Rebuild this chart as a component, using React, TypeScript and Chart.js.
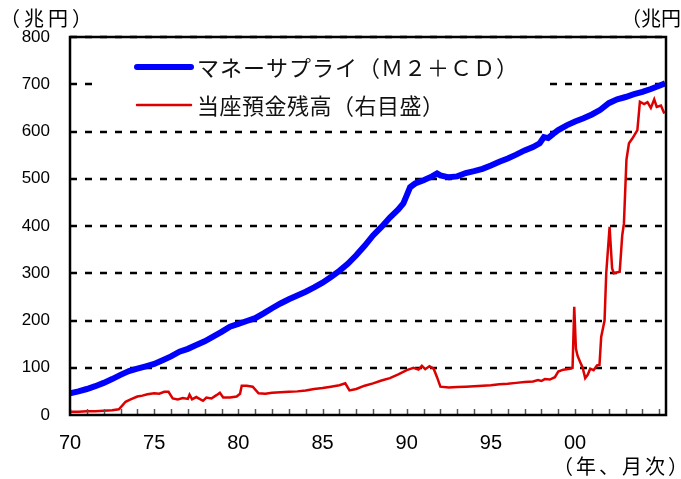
import React, { useEffect, useRef } from "react";
import { Chart, registerables } from "chart.js";

Chart.register(...registerables);

// マネーサプライ（M2+CD）, 兆円 (left scale)
const m2Years = [
  1970.0, 1970.5, 1971.0, 1971.5, 1972.0, 1972.5, 1973.0, 1973.5, 1974.0, 1974.5,
  1975.0, 1975.5, 1976.0, 1976.5, 1977.0, 1977.5, 1978.0, 1978.5, 1979.0, 1979.5,
  1980.0, 1980.5, 1981.0, 1981.5, 1982.0, 1982.5, 1983.0, 1983.5, 1984.0, 1984.5,
  1985.0, 1985.5, 1986.0, 1986.5, 1987.0, 1987.5, 1988.0, 1988.5, 1989.0, 1989.5,
  1989.8, 1990.0, 1990.2, 1990.5, 1991.0, 1991.5, 1991.8, 1992.0, 1992.5, 1993.0,
  1993.5, 1994.0, 1994.5, 1995.0, 1995.5, 1996.0, 1996.5, 1997.0, 1997.5, 1997.9,
  1998.15, 1998.4, 1998.7, 1999.0, 1999.5, 2000.0, 2000.5, 2001.0, 2001.5, 2002.0,
  2002.5, 2003.0, 2003.5, 2004.0, 2004.5, 2005.0, 2005.35,
];
const m2Values = [
  46, 50, 55, 61, 68, 76, 85, 93, 98, 103,
  108, 116, 124, 134, 140, 148, 156, 166, 176, 187,
  193, 199, 205, 215, 226, 236, 245, 253, 261, 270,
  280, 292, 305, 320, 338, 358, 380, 398, 418, 435,
  448, 465, 482, 490, 497, 505, 511, 507, 503, 505,
  512, 516, 521, 528, 536, 543, 551, 560, 567, 575,
  588, 586, 595, 603, 613, 621, 628, 636, 646, 660,
  668, 673, 679, 684, 690, 697, 702,
];

// 当座預金残高, 兆円 (right scale)
const cabYears = [
  1970.0, 1970.5, 1971.0, 1971.5, 1972.0, 1972.5, 1972.9, 1973.1, 1973.3, 1973.6,
  1974.0, 1974.3, 1974.6, 1975.0, 1975.3, 1975.6, 1975.85, 1976.1, 1976.4, 1976.7,
  1977.0, 1977.1, 1977.25, 1977.5, 1977.9, 1978.1, 1978.4, 1978.7, 1978.9, 1979.1,
  1979.5, 1979.9, 1980.1, 1980.2, 1980.5, 1980.85, 1981.2, 1981.6, 1982.0, 1982.5,
  1983.0, 1983.5, 1984.0, 1984.5, 1985.0, 1985.5, 1986.0, 1986.35, 1986.6, 1987.0,
  1987.5, 1988.0, 1988.5, 1989.0, 1989.5, 1990.0, 1990.4, 1990.7, 1990.9, 1991.1,
  1991.35, 1991.6, 1991.8, 1992.0, 1992.5, 1993.0, 1993.5, 1994.0, 1994.5, 1995.0,
  1995.5, 1996.0, 1996.5, 1997.0, 1997.5, 1997.8, 1998.0, 1998.2, 1998.5, 1998.8,
  1999.0, 1999.3, 1999.7, 1999.85, 1999.95, 2000.05, 2000.15, 2000.3, 2000.45, 2000.6,
  2000.75, 2000.9, 2001.1, 2001.3, 2001.45, 2001.55, 2001.75, 2001.85, 2002.05, 2002.2,
  2002.3, 2002.65, 2002.8, 2002.9, 2003.05, 2003.2, 2003.4, 2003.7, 2003.85, 2004.1,
  2004.3, 2004.5, 2004.7, 2004.85, 2005.1, 2005.3,
];
const cabValues = [
  0.35, 0.35, 0.4, 0.4, 0.45, 0.5, 0.6, 1.0, 1.4, 1.65,
  1.95, 2.05, 2.2, 2.3, 2.25, 2.45, 2.45, 1.75, 1.65, 1.8,
  1.7, 2.15, 1.65, 1.9, 1.5, 1.85, 1.75, 2.1, 2.35, 1.85,
  1.85, 1.95, 2.25, 3.1, 3.1, 3.0, 2.3, 2.25, 2.35, 2.4,
  2.45, 2.5, 2.6, 2.75, 2.85, 3.0, 3.15, 3.35, 2.6, 2.75,
  3.1, 3.35, 3.65, 3.9, 4.3, 4.75, 5.0, 4.8, 5.2, 4.85,
  5.15, 4.9, 4.0, 3.0, 2.9, 2.95, 3.0, 3.05, 3.1, 3.15,
  3.25, 3.3, 3.4, 3.5, 3.55, 3.7, 3.6, 3.8, 3.75, 4.0,
  4.6, 4.8, 4.9, 5.0, 11.45, 7.0, 6.25, 5.6, 5.0, 3.9,
  4.25, 4.9, 4.75, 5.25, 5.3, 8.25, 10.0, 15.0, 19.9, 15.5,
  15.0, 15.15, 19.0, 20.25, 27.0, 28.75, 29.25, 30.15, 33.15, 32.9,
  33.1, 32.5, 33.4, 32.6, 32.75, 31.9,
];

const xTickYears = [
  1970, 1971, 1972, 1973, 1974, 1975, 1976, 1977, 1978, 1979,
  1980, 1981, 1982, 1983, 1984, 1985, 1986, 1987, 1988, 1989,
  1990, 1991, 1992, 1993, 1994, 1995, 1996, 1997, 1998, 1999,
  2000, 2001, 2002, 2003, 2004, 2005,
];
const xLabelYears = [1970, 1975, 1980, 1985, 1990, 1995, 2000];
const xLabels = ["70", "75", "80", "85", "90", "95", "00"];
const yGridValues = [100, 200, 300, 400, 500, 600, 700, 800];

const seriesNames = ["マネーサプライ（Ｍ２＋ＣＤ）", "当座預金残高（右目盛）"];
const leftUnit = "（兆円）";
const rightUnit = "（兆円）";
const xUnit = "（年、月次）";

const JP = '"Noto Sans CJK JP", "Noto Sans", sans-serif';
const NUM = '"Liberation Sans", Arial, sans-serif';

const overlay = {
  id: "overlay",
  beforeDatasetsDraw(chart: any) {
    const { ctx, chartArea: a, scales } = chart;
    ctx.save();
    ctx.strokeStyle = "#000";
    ctx.lineWidth = 2.5;
    ctx.setLineDash([7, 8]);
    for (const v of yGridValues) {
      const py = Math.round(scales.y.getPixelForValue(v));
      ctx.beginPath();
      ctx.moveTo(a.left, py);
      ctx.lineTo(a.right, py);
      ctx.stroke();
    }
    ctx.restore();
  },
  afterDatasetsDraw(chart: any) {
    const { ctx, chartArea: a, scales } = chart;
    ctx.save();
    // legend
    ctx.fillStyle = "#fff";
    ctx.fillRect(92, 50, 456, 72);
    ctx.lineCap = "round";
    ctx.strokeStyle = "#0000FF";
    ctx.lineWidth = 6;
    ctx.beginPath();
    ctx.moveTo(137, 67);
    ctx.lineTo(191, 67);
    ctx.stroke();
    ctx.strokeStyle = "#DD0000";
    ctx.lineWidth = 2.5;
    ctx.beginPath();
    ctx.moveTo(137, 105);
    ctx.lineTo(191, 105);
    ctx.stroke();
    ctx.fillStyle = "#111";
    ctx.font = `22px ${JP}`;
    ctx.textAlign = "left";
    ctx.textBaseline = "middle";
    (ctx as any).letterSpacing = "1px";
    ctx.fillText(seriesNames[0], 197, 68);
    (ctx as any).letterSpacing = "0.5px";
    ctx.fillText(seriesNames[1], 197, 106);
    (ctx as any).letterSpacing = "0px";
    // inner x ticks
    ctx.lineCap = "butt";
    ctx.strokeStyle = "#555";
    ctx.lineWidth = 1.5;
    for (const yr of xTickYears) {
      const px = Math.round(scales.x.getPixelForValue(yr)) + 0.5;
      ctx.beginPath();
      ctx.moveTo(px, a.bottom);
      ctx.lineTo(px, a.bottom - 6);
      ctx.stroke();
    }
    // frame
    ctx.strokeStyle = "#000";
    ctx.lineWidth = 2.5;
    ctx.strokeRect(a.left, a.top, a.right - a.left, a.bottom - a.top);
    // unit titles
    ctx.fillStyle = "#000";
    ctx.font = `20px ${JP}`;
    ctx.textBaseline = "middle";
    ctx.textAlign = "left";
    (ctx as any).letterSpacing = "4px";
    ctx.fillText(leftUnit, 0, 18);
    (ctx as any).letterSpacing = "0px";
    ctx.fillText(rightUnit, 621, 18);
    (ctx as any).letterSpacing = "3px";
    ctx.fillText(xUnit, 553, 466);
    (ctx as any).letterSpacing = "0px";
    ctx.restore();
  },
};

export default function App() {
  const ref = useRef<HTMLCanvasElement | null>(null);
  useEffect(() => {
    document.body.style.margin = "0";
    const canvas = ref.current!;
    const chart = new Chart(canvas, {
      type: "line",
      data: {
        datasets: [
          {
            label: seriesNames[0],
            data: m2Years.map((x, i) => ({ x, y: m2Values[i] })),
            borderColor: "#0000FF",
            borderWidth: 6,
            pointRadius: 0,
            tension: 0,
            yAxisID: "y",
          },
          {
            label: seriesNames[1],
            data: cabYears.map((x, i) => ({ x, y: cabValues[i] })),
            borderColor: "#DD0000",
            borderWidth: 2.5,
            pointRadius: 0,
            tension: 0,
            yAxisID: "y1",
          },
        ],
      },
      options: {
        responsive: false,
        animation: false,
        events: [],
        layout: { padding: { top: 37, right: 15, left: 0, bottom: 0 } },
        plugins: { legend: { display: false }, tooltip: { enabled: false } },
        scales: {
          x: {
            type: "linear",
            min: 1970,
            max: 2005.4,
            grid: { display: false, drawTicks: false },
            border: { display: false },
            afterBuildTicks: (s: any) => {
              s.ticks = xLabelYears.map((v) => ({ value: v }));
            },
            afterFit: (s: any) => {
              s.height = 64;
            },
            ticks: {
              autoSkip: false,
              maxRotation: 0,
              padding: 16,
              color: "#000",
              font: { family: NUM, size: 20 },
              callback: (v: any) => {
                const i = xLabelYears.indexOf(Number(v));
                return i >= 0 ? xLabels[i] : "";
              },
            },
          },
          y: {
            position: "left",
            min: 0,
            max: 800,
            grid: { display: false, drawTicks: false },
            border: { display: false },
            afterFit: (s: any) => {
              s.width = 70;
            },
            ticks: {
              stepSize: 100,
              padding: 20,
              color: "#000",
              font: { family: NUM, size: 17 },
            },
          },
          y1: {
            position: "right",
            min: 0,
            max: 40,
            display: false,
          },
        },
      },
      plugins: [overlay],
    });
    return () => chart.destroy();
  }, []);
  return (
    <div style={{ width: 681, height: 479 }}>
      <canvas ref={ref} width={681} height={479} style={{ display: "block" }} />
    </div>
  );
}
